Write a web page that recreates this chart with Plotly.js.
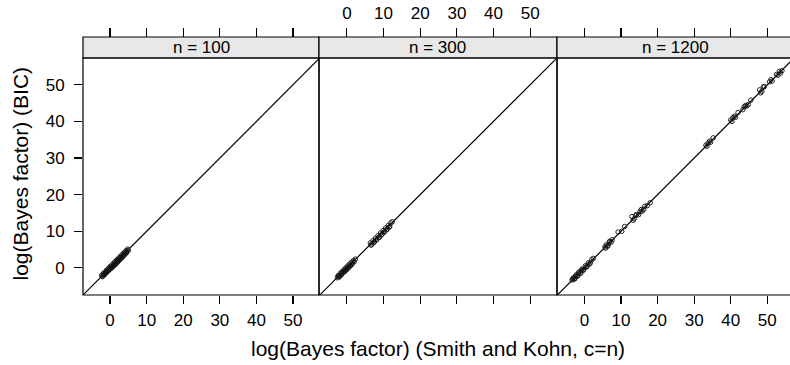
<!DOCTYPE html>
<html><head><meta charset="utf-8">
<script src="https://cdn.plot.ly/plotly-3.0.1.min.js"></script>
<style>html,body{margin:0;padding:0;background:#fff}#plot{width:790px;height:365px}</style>
</head><body><div id="plot"></div>
<script>
const panelLabels = ["n = 100", "n = 300", "n = 1200"];
const tickVals = [0, 10, 20, 30, 40, 50];
const refLine = [-8, 58];

const p1x = [-2.3,-2.1,-2.0,-1.8,-1.7,-1.6,-1.4,-1.3,-1.2,-1.0,-0.9,-0.8,-0.6,-0.5,-0.4,-0.2,-0.1,0.0,0.1,0.3,0.4,0.5,0.7,0.8,0.9,1.0,1.2,1.3,1.4,1.6,1.7,1.8,2.0,2.1,2.2,2.4,2.5,2.6,2.8,2.9,3.0,3.2,3.3,3.4,3.6,3.7,3.8,4.0,4.1,4.2,4.4,4.5,4.6,4.8,5.0];
const p1y = [-2.0,-2.4,-2.2,-1.5,-2.0,-1.8,-1.2,-1.6,-1.4,-0.7,-1.2,-1.0,-0.3,-0.8,-0.6,0.1,-0.4,-0.2,0.4,-0.1,0.1,0.8,0.3,0.5,1.2,0.6,0.8,1.6,1.0,1.1,2.0,1.6,2.3,1.6,1.9,2.7,2.1,2.4,3.1,2.5,2.7,3.5,2.9,3.1,3.9,3.3,3.5,4.3,3.8,3.9,4.7,4.2,4.3,5.1,4.8];

const p2x = [-2.6,-2.4,-2.3,-2.1,-2.0,-1.8,-1.6,-1.5,-1.3,-1.1,-1.0,-0.8,-0.6,-0.5,-0.3,-0.1,0.0,0.2,0.4,0.5,0.7,0.9,1.0,1.2,1.4,1.5,1.8,2.0,2.3,6.4,6.6,6.8,7.1,7.3,7.5,7.8,8.0,8.2,8.5,8.7,8.9,9.2,9.4,9.6,9.9,10.1,10.3,10.6,10.8,11.0,11.3,11.5,11.7,12.0,12.4];
const p2y = [-2.7,-2.2,-2.1,-2.5,-2.3,-1.5,-2.0,-1.7,-1.0,-1.4,-1.2,-0.5,-1.0,-0.8,0.0,-0.5,-0.3,0.5,0.0,0.2,1.0,0.5,0.7,1.5,1.0,1.2,2.0,1.7,2.4,6.8,6.2,6.5,7.4,6.9,7.1,8.1,7.6,7.8,8.8,8.3,8.4,9.5,9.0,9.2,10.2,9.7,9.9,10.9,10.4,10.6,11.6,11.1,11.3,12.3,12.6];

const p3x = [-3.4,-3.2,-3.0,-2.8,-2.6,-2.4,-2.2,-2.0,-1.8,-1.6,-1.4,-1.2,-1.0,-0.8,-0.6,-0.4,-0.2,0.3,0.5,0.7,1.1,1.3,1.6,2.0,2.4,5.6,5.8,6.0,6.3,6.5,6.8,7.0,7.3,7.6,9.2,10.2,11.0,13.0,13.3,13.6,14.0,14.3,14.8,15.2,15.5,15.8,16.2,16.5,17.2,18.0,33.2,33.5,33.8,34.2,34.5,35.2,40.0,40.3,40.6,41.0,41.3,42.0,43.3,43.7,44.0,44.4,44.8,45.5,47.9,48.2,48.5,48.9,49.2,50.6,51.0,51.3,52.5,52.9,53.3,53.6,54.0];
const p3y = [-3.3,-3.0,-2.7,-3.1,-2.9,-2.2,-1.9,-2.3,-2.1,-1.3,-1.1,-1.5,-1.4,-0.6,-0.3,-0.7,-0.5,0.6,0.2,0.4,1.4,1.0,1.3,2.2,2.6,5.7,5.4,6.3,5.9,6.2,7.1,7.3,7.0,7.7,9.8,10.0,11.3,14.0,13.0,13.4,14.3,14.6,14.5,15.3,15.9,15.5,16.0,16.8,17.0,17.8,33.5,33.2,34.0,34.6,34.3,35.5,40.4,40.0,41.0,41.4,41.1,42.4,43.2,44.0,44.3,44.2,44.6,45.8,48.6,47.8,48.2,49.4,49.5,50.8,51.4,51.0,52.8,52.6,53.6,53.2,53.8];

const panelX = [p1x, p2x, p3x];
const panelY = [p1y, p2y, p3y];

const W = 707; // plot width in px (790 - 83)
const doms = [[0, 236/W], [236/W, 474/W], [474/W, 1]];
const xRanges = [[-7.4, 57.1], [-7.6, 57.3], [-7.5, 56.2]];
const yRange = [-7.4, 57.3];
const yTop = 237/258;

const font = "Liberation Sans, Arial, Helvetica, sans-serif";
const traces = [];
const axNames = ["x", "x2", "x3"];
const topNames = ["x4", "x5", "x6"];
for (let i = 0; i < 3; i++) {
  traces.push({x: refLine, y: refLine, xaxis: axNames[i], yaxis: "y", mode: "lines",
    line: {color: "#000", width: 1.2}, hoverinfo: "skip", showlegend: false});
  traces.push({x: panelX[i], y: panelY[i], xaxis: axNames[i], yaxis: "y", mode: "markers",
    marker: {symbol: "circle-open", size: 4.5, color: "#111", line: {width: 0.9, color: "#111"}},
    showlegend: false});
  // empty trace so that the top (mirror) axis of each panel gets drawn
  traces.push({x: [], y: [], xaxis: topNames[i], yaxis: "y", mode: "markers",
    hoverinfo: "skip", showlegend: false});
}

function bottomAxis(i, showLabels) {
  return {domain: doms[i], range: xRanges[i], anchor: "y", tickvals: tickVals,
    showticklabels: showLabels, ticks: "outside", ticklen: 8, tickwidth: 1.2, tickcolor: "#000",
    showgrid: false, zeroline: false, showline: false, ticklabelstandoff: 2,
    tickfont: {family: font, size: 17, color: "#000"}};
}
function topAxis(i, showLabels) {
  return {domain: doms[i], range: xRanges[i], anchor: "free", position: 1, side: "top",
    overlaying: axNames[i], tickvals: tickVals, showticklabels: showLabels,
    ticks: "outside", ticklen: 9, tickwidth: 1.2, tickcolor: "#000",
    showgrid: false, zeroline: false, showline: false, ticklabelstandoff: 2,
    tickfont: {family: font, size: 17, color: "#000"}};
}

const shapes = [];
const annotations = [];
for (let i = 0; i < 3; i++) {
  const x1 = doms[i][1] + (i === 2 ? 0.01 : 0);
  shapes.push({type: "rect", xref: "paper", yref: "paper",
    x0: doms[i][0], x1: x1, y0: yTop, y1: 1,
    fillcolor: "#e8e8e8", line: {color: "#000", width: 1.2}, layer: "below"});
  shapes.push({type: "rect", xref: "paper", yref: "paper",
    x0: doms[i][0], x1: x1, y0: 0, y1: yTop,
    fillcolor: "rgba(0,0,0,0)", line: {color: "#000", width: 1.2}});
  annotations.push({xref: "paper", yref: "paper",
    x: i === 2 ? (474 + 237/2)/W : (doms[i][0] + doms[i][1]) / 2,
    y: (yTop + 1) / 2, text: panelLabels[i], showarrow: false, xanchor: "center", yanchor: "middle",
    font: {family: font, size: 17, color: "#000"}});
}

annotations.push({xref: "paper", yref: "paper", x: (437.5 - 83)/W, y: (295 - 348)/258,
  text: "log(Bayes factor) (Smith and Kohn, c=n)", showarrow: false, xanchor: "center", yanchor: "middle",
  font: {family: font, size: 21, color: "#000"}});
annotations.push({xref: "paper", yref: "paper", x: (20 - 83)/W, y: (295 - 173.5)/258,
  text: "log(Bayes factor) (BIC)", showarrow: false, textangle: -90, xanchor: "center", yanchor: "middle",
  font: {family: font, size: 21, color: "#000"}});

const layout = {
  width: 790, height: 365, paper_bgcolor: "#fff", plot_bgcolor: "#fff",
  margin: {l: 83, r: 0, t: 37, b: 70},
  showlegend: false,
  xaxis: bottomAxis(0, true),
  xaxis2: bottomAxis(1, false),
  xaxis3: bottomAxis(2, true),
  xaxis4: topAxis(0, false),
  xaxis5: topAxis(1, true),
  xaxis6: topAxis(2, false),
  yaxis: {domain: [0, yTop], range: yRange, anchor: "x", tickvals: tickVals,
    ticks: "outside", ticklen: 8, tickwidth: 1.2, tickcolor: "#000",
    showgrid: false, zeroline: false, showline: false, ticklabelstandoff: 6,
    tickfont: {family: font, size: 17, color: "#000"}},
  shapes: shapes,
  annotations: annotations
};

Plotly.newPlot("plot", traces, layout, {displayModeBar: false, staticPlot: true});
</script>
</body></html>
